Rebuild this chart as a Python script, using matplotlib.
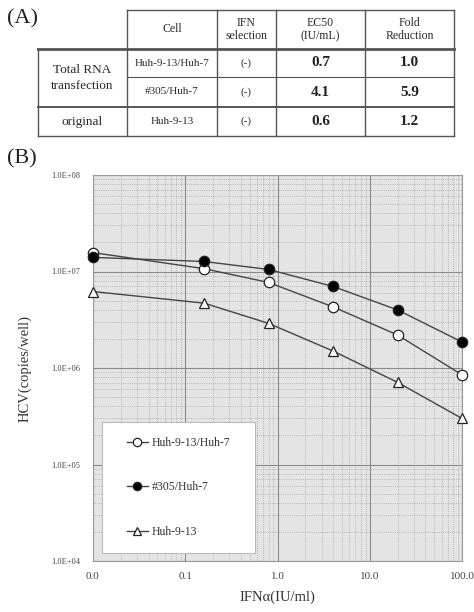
import matplotlib.pyplot as plt
from matplotlib.patches import Rectangle
from matplotlib.ticker import FixedLocator, LogLocator, NullFormatter

plt.rcParams['font.family'] = ['Liberation Serif', 'DejaVu Serif']

# panel A table
header = ['Cell', 'IFN\nselection', 'EC50\n(IU/mL)', 'Fold\nReduction']
row_groups = ['Total RNA\ntransfection', 'original']
cells = ['Huh-9-13/Huh-7', '#305/Huh-7', 'Huh-9-13']
ifn_sel = ['(-)', '(-)', '(-)']
ec50 = ['0.7', '4.1', '0.6']
fold = ['1.0', '5.9', '1.2']

# panel B data
dose = [0.01, 0.16, 0.8, 4, 20, 100]
huh913_huh7 = [1.57e7, 1.07e7, 7.7e6, 4.3e6, 2.2e6, 8.5e5]
h305_huh7 = [1.4e7, 1.27e7, 1.05e7, 7.0e6, 4.0e6, 1.86e6]
huh913 = [6.2e6, 4.7e6, 2.9e6, 1.5e6, 7.1e5, 3.0e5]
xticks = [0.01, 0.1, 1, 10, 100]
xticklabels = ['0.0', '0.1', '1.0', '10.0', '100.0']
yticks = [1e4, 1e5, 1e6, 1e7, 1e8]
yticklabels = ['1.0E+04', '1.0E+05', '1.0E+06', '1.0E+07', '1.0E+08']

W, H = 474, 612
fig = plt.figure(figsize=(W / 100, H / 100), dpi=100)

# overlay in pixel coords for table and panel letters
ov = fig.add_axes([0, 0, 1, 1])
ov.set_xlim(0, W)
ov.set_ylim(H, 0)
ov.axis('off')

ov.text(7, 19, '(A)', fontsize=16, va='center', ha='left', color='#222222')
ov.text(7, 159, '(B)', fontsize=16, va='center', ha='left', color='#222222')

col_x = [38, 127, 217, 276, 365, 454]
row_y = [10, 49, 77, 107, 136]
lc = '#555555'
ov.plot([col_x[1], col_x[5]], [row_y[0], row_y[0]], color=lc, lw=1)
ov.plot([col_x[0], col_x[5]], [row_y[1], row_y[1]], color=lc, lw=2)
ov.plot([col_x[1], col_x[5]], [row_y[2], row_y[2]], color=lc, lw=0.8)
ov.plot([col_x[0], col_x[5]], [row_y[3], row_y[3]], color=lc, lw=1.4)
ov.plot([col_x[0], col_x[5]], [row_y[4], row_y[4]], color=lc, lw=1)
ov.plot([col_x[0], col_x[0]], [row_y[1], row_y[4]], color=lc, lw=1)
for cx in col_x[1:]:
    ov.plot([cx, cx], [row_y[0], row_y[4]], color=lc, lw=1)

tc = '#2a2a2a'
for i, h in enumerate(header):
    ov.text((col_x[i + 1] + col_x[i + 2]) / 2, (row_y[0] + row_y[1]) / 2, h,
            ha='center', va='center', fontsize=8.5, linespacing=1.2, color=tc)
ov.text((col_x[0] + col_x[1]) / 2, (row_y[1] + row_y[3]) / 2, row_groups[0],
        ha='center', va='center', fontsize=9.5, linespacing=1.35, color=tc)
ov.text((col_x[0] + col_x[1]) / 2, (row_y[3] + row_y[4]) / 2, row_groups[1],
        ha='center', va='center', fontsize=9.5, color=tc)
for r in range(3):
    yc = (row_y[r + 1] + row_y[r + 2]) / 2
    ov.text((col_x[1] + col_x[2]) / 2, yc, cells[r], ha='center', va='center',
            fontsize=8, color=tc)
    ov.text((col_x[2] + col_x[3]) / 2, yc, ifn_sel[r], ha='center', va='center',
            fontsize=8, color=tc)
    ov.text((col_x[3] + col_x[4]) / 2, yc, ec50[r], ha='center', va='center',
            fontsize=11, fontweight='bold', color='#222222')
    ov.text((col_x[4] + col_x[5]) / 2, yc, fold[r], ha='center', va='center',
            fontsize=11, fontweight='bold', color='#222222')

# panel B plot
ax = fig.add_axes([93 / W, (H - 561) / H, (462 - 93) / W, (561 - 175) / H])
ax.set_facecolor('#e4e4e4')
ax.set_xscale('log')
ax.set_yscale('log')
ax.set_xlim(0.01, 100)
ax.set_ylim(1e4, 1e8)

lkw = dict(color='#444444', lw=1.0, markersize=7.5, markeredgecolor='#222222',
           markeredgewidth=0.9, clip_on=False, zorder=3)
ax.plot(dose, huh913_huh7, marker='o', markerfacecolor='white', label='Huh-9-13/Huh-7', **lkw)
ax.plot(dose, h305_huh7, marker='o', markerfacecolor='black', label='#305/Huh-7', **lkw)
ax.plot(dose, huh913, marker='^', markerfacecolor='white', label='Huh-9-13', **lkw)

ax.xaxis.set_major_locator(FixedLocator(xticks))
ax.set_xticklabels(xticklabels, fontsize=8, color='#444444')
ax.yaxis.set_major_locator(FixedLocator(yticks))
ax.set_yticklabels(yticklabels, fontsize=6, color='#444444')
ax.xaxis.set_minor_locator(LogLocator(base=10, subs=range(2, 10)))
ax.yaxis.set_minor_locator(LogLocator(base=10, subs=range(2, 10)))
ax.xaxis.set_minor_formatter(NullFormatter())
ax.yaxis.set_minor_formatter(NullFormatter())
ax.tick_params(which='both', length=0, pad=8)
ax.tick_params(axis='y', pad=9)
ax.grid(which='major', color='#8a8a8a', lw=0.8)
ax.grid(which='minor', color='#9a9a9a', lw=0.5, ls=':')
ax.set_axisbelow(True)
for s in ax.spines.values():
    s.set_color('#999999')
    s.set_linewidth(0.8)

ax.set_xlabel('IFNα(IU/ml)', fontsize=10.5, color='#333333', labelpad=7)
ax.set_ylabel('HCV(copies/well)', fontsize=10.5, color='#333333', labelpad=14)

# legend: white box drawn separately, entries centred inside it
box = (0.024, 0.021, 0.415, 0.339)
ax.add_patch(Rectangle(box[:2], box[2], box[3], transform=ax.transAxes,
                       facecolor='white', edgecolor='#bbbbbb', lw=0.8, zorder=4))
leg = ax.legend(loc='center', bbox_to_anchor=box, fontsize=8.5,
                labelspacing=2.75, handlelength=1.8, handletextpad=0.3,
                borderpad=0, borderaxespad=0, frameon=False, markerscale=0.8)
leg.set_zorder(5)
for t in leg.get_texts():
    t.set_color('#333333')

plt.savefig('out.png', dpi=100)
